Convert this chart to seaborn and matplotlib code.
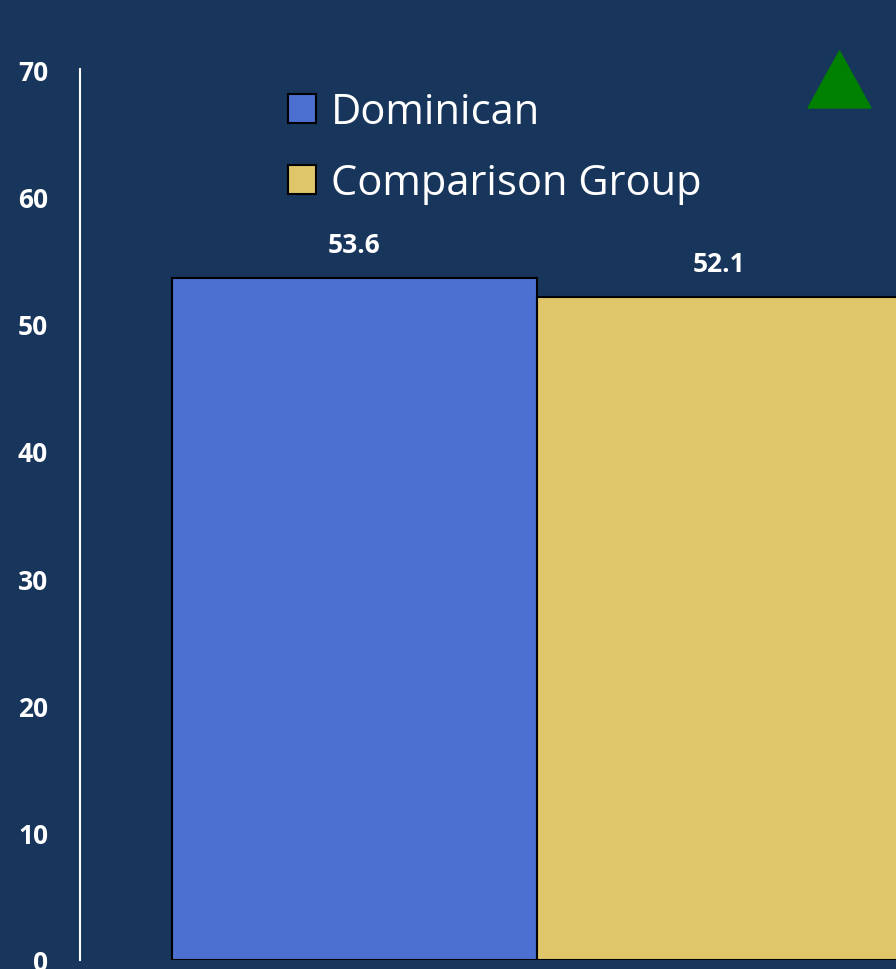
import matplotlib
matplotlib.use("Agg")
import matplotlib.pyplot as plt
import seaborn as sns
import pandas as pd
from matplotlib.patches import Patch, Polygon

groups = ["Dominican", "Comparison Group"]
values = [53.6, 52.1]
colors = ["#4B70D1", "#DFC66B"]
yticks = [0, 10, 20, 30, 40, 50, 60, 70]

bg = "#18355b"

sns.set_theme(style="white")
plt.rcParams["font.family"] = ["Open Sans", "DejaVu Sans"]

df = pd.DataFrame({"group": groups, "value": values})

fig = plt.figure(figsize=(8.96, 9.7), dpi=100)
fig.patch.set_facecolor(bg)
ax = fig.add_axes([80 / 896, 9 / 970, 816 / 896, 891 / 970])
ax.set_facecolor(bg)

sns.barplot(data=df, x="group", y="value", hue="group", palette=colors,
            saturation=1, width=1.0, dodge=False, edgecolor="black",
            linewidth=1.5, legend=False, ax=ax)

ax.set_xlim(-0.752, 1.4836)
ax.set_ylim(0, 70)
ax.set_yticks(yticks)
ax.set_yticklabels([str(t) for t in yticks], color="white",
                   fontsize=19, fontweight="bold")
ax.tick_params(axis="y", length=0, pad=23)
ax.set_xticks([])
ax.set_xlabel("")
ax.set_ylabel("")
for s in ["top", "right", "bottom"]:
    ax.spines[s].set_visible(False)
ax.spines["left"].set_color("white")
ax.spines["left"].set_linewidth(1.5)

# value labels
for i, v in enumerate(values):
    ax.text(i, v + 2.6, f"{v}", ha="center", va="center", color="white",
            fontsize=19, fontweight="bold")

# legend
handles = [Patch(facecolor=c, edgecolor="black", linewidth=1.5, label=g)
           for g, c in zip(groups, colors)]
leg = fig.legend(handles=handles, loc="upper left",
                 bbox_to_anchor=(288 / 896, 1 - 92 / 970),
                 frameon=False, fontsize=30, handlelength=0.67,
                 handleheight=0.67, handletextpad=0.35, labelspacing=0.70,
                 borderaxespad=0, borderpad=0)
for t in leg.get_texts():
    t.set_color("white")

# green up-triangle indicator
tri = Polygon([(808 / 896, 1 - 109 / 970), (871 / 896, 1 - 109 / 970),
               (839.5 / 896, 1 - 52 / 970)], closed=True,
              facecolor="#008000", edgecolor="#008000", linewidth=1,
              transform=fig.transFigure)
fig.patches.append(tri)

fig.savefig("out.png", dpi=100, facecolor=bg)
